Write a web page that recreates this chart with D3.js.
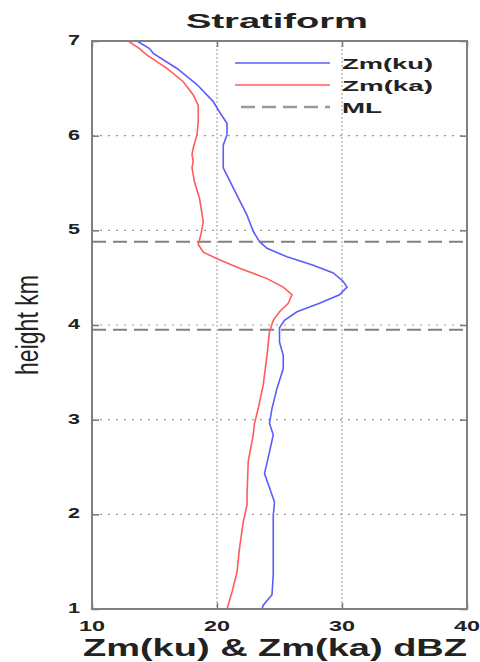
<!DOCTYPE html>
<html>
<head>
<meta charset="utf-8">
<script src="https://cdn.jsdelivr.net/npm/d3@7/dist/d3.min.js"></script>
<style>
  body { margin: 0; background: #fff; }
  text { font-family: "Liberation Sans", Arial, sans-serif; }
</style>
</head>
<body>
<div id="chart"></div>
<script>
// profiles (height km, dBZ)
const kuHeight = [7.0, 6.92, 6.87, 6.71, 6.54, 6.36, 6.25, 6.13, 6.01, 5.90, 5.66, 5.58, 5.37, 5.16, 4.99, 4.88, 4.81, 4.72, 4.63, 4.55, 4.46, 4.40, 4.32, 4.23, 4.14, 4.05, 3.97, 3.82, 3.68, 3.54, 3.33, 3.12, 2.96, 2.84, 2.66, 2.43, 2.28, 2.13, 1.99, 1.64, 1.36, 1.15, 1.04, 1.0]
const kuValue = [13.6, 14.6, 14.9, 16.8, 18.4, 19.7, 20.2, 20.8, 20.8, 20.5, 20.5, 20.8, 21.6, 22.4, 22.9, 23.4, 24.0, 25.6, 27.7, 29.3, 30.1, 30.4, 29.8, 28.2, 26.4, 25.4, 25.0, 25.0, 25.3, 25.3, 24.8, 24.4, 24.2, 24.5, 24.2, 23.8, 24.2, 24.6, 24.5, 24.5, 24.5, 24.4, 23.7, 23.6]

const kaHeight = [7.0, 6.92, 6.85, 6.71, 6.57, 6.43, 6.32, 6.15, 6.01, 5.87, 5.80, 5.73, 5.66, 5.51, 5.34, 5.09, 4.95, 4.85, 4.77, 4.70, 4.60, 4.49, 4.40, 4.32, 4.23, 4.14, 4.05, 3.93, 3.68, 3.37, 3.12, 2.96, 2.84, 2.56, 2.20, 2.10, 1.92, 1.64, 1.39, 1.18, 1.0]
const kaValue = [12.9, 13.8, 14.4, 16.0, 17.3, 18.1, 18.5, 18.5, 18.4, 18.1, 18.0, 18.1, 18.0, 18.2, 18.6, 18.9, 18.7, 18.5, 18.9, 20.0, 21.8, 24.0, 25.3, 26.0, 25.7, 25.0, 24.5, 24.2, 24.0, 23.7, 23.3, 23.0, 22.9, 22.5, 22.4, 22.4, 22.1, 21.8, 21.6, 21.2, 20.8]

const mlHeights = [4.88, 3.95]
const xTicks = [10, 20, 30, 40]
const yTicks = [1, 2, 3, 4, 5, 6, 7]
const legendNames = ['Zm(ku)', 'Zm(ka)', 'ML']

const width = 480, height = 662
const m = { top: 41, right: 13, bottom: 53, left: 92 }
const iw = width - m.left - m.right
const ih = height - m.top - m.bottom

const svg = d3.select('#chart').append('svg').attr('width', width).attr('height', height)
const g = svg.append('g').attr('transform', `translate(${m.left},${m.top})`)

const x = d3.scaleLinear().domain([10, 40]).range([0, iw])
const y = d3.scaleLinear().domain([1, 7]).range([ih, 0])

// grid
g.append('g').selectAll('line').data([20, 30]).join('line')
  .attr('x1', d => x(d)).attr('x2', d => x(d)).attr('y1', 0).attr('y2', ih)
  .attr('stroke', '#aaa').attr('stroke-width', 1.2).attr('stroke-dasharray', '2,2')
g.append('g').selectAll('line').data([2, 3, 4, 5, 6]).join('line')
  .attr('x1', 0).attr('x2', iw).attr('y1', d => y(d)).attr('y2', d => y(d))
  .attr('stroke', '#999').attr('stroke-width', 1.2).attr('stroke-dasharray', '2,6')

// melting layer
g.append('g').selectAll('line').data(mlHeights).join('line')
  .attr('x1', 0).attr('x2', iw).attr('y1', d => y(d)).attr('y2', d => y(d))
  .attr('stroke', '#808080').attr('stroke-width', 2).attr('stroke-dasharray', '14,7')

// profiles
const line = d3.line().x(d => x(d[1])).y(d => y(d[0]))
g.append('path').datum(d3.zip(kuHeight, kuValue))
  .attr('d', line).attr('fill', 'none').attr('stroke', '#5c5cff').attr('stroke-width', 1.6)
g.append('path').datum(d3.zip(kaHeight, kaValue))
  .attr('d', line).attr('fill', 'none').attr('stroke', '#ff5c5c').attr('stroke-width', 1.6)

// ticks (inward)
const tk = (sel) => sel.selectAll('.domain').remove()
g.append('g').call(d3.axisLeft(y).tickValues(yTicks).tickSize(-7).tickFormat('')).call(tk)
g.append('g').attr('transform', `translate(${iw},0)`).call(d3.axisRight(y).tickValues(yTicks).tickSize(-7).tickFormat('')).call(tk)
g.append('g').attr('transform', `translate(0,${ih})`).call(d3.axisBottom(x).tickValues(xTicks).tickSize(-6).tickFormat('')).call(tk)
g.append('g').call(d3.axisTop(x).tickValues(xTicks).tickSize(-6).tickFormat('')).call(tk)
g.selectAll('.tick line').attr('stroke', '#777').attr('stroke-width', 1.5)

// frame
g.append('rect').attr('width', iw).attr('height', ih)
  .attr('fill', 'none').attr('stroke', '#808080').attr('stroke-width', 2)

// tick labels
g.append('g').selectAll('text').data(yTicks).join('text')
  .attr('x', -12).attr('y', d => y(d) + 4)
  .attr('text-anchor', 'end').attr('font-size', 14).attr('font-weight', 'bold')
  .attr('textLength', 12).attr('lengthAdjust', 'spacingAndGlyphs')
  .attr('fill', '#222').text(d => d)
g.append('g').selectAll('text').data(xTicks).join('text')
  .attr('x', d => x(d)).attr('y', ih + 22)
  .attr('text-anchor', 'middle').attr('font-size', 14).attr('font-weight', 'bold')
  .attr('textLength', 26).attr('lengthAdjust', 'spacingAndGlyphs')
  .attr('fill', '#222').text(d => d)

// title and axis labels
svg.append('text').attr('x', 277).attr('y', 28).attr('text-anchor', 'middle')
  .attr('font-size', 21).attr('font-weight', 'bold')
  .attr('textLength', 182).attr('lengthAdjust', 'spacingAndGlyphs')
  .attr('fill', '#222').text('Stratiform')
svg.append('text').attr('x', 83).attr('y', 656)
  .attr('font-size', 23).attr('font-weight', 'bold')
  .attr('textLength', 384).attr('lengthAdjust', 'spacingAndGlyphs')
  .attr('fill', '#222').text('Zm(ku) & Zm(ka) dBZ')
svg.append('text').attr('transform', `translate(38,${m.top + ih / 2}) rotate(-90)`)
  .attr('text-anchor', 'middle').attr('font-size', 31)
  .attr('textLength', 100).attr('lengthAdjust', 'spacingAndGlyphs')
  .attr('fill', '#222').text('height km')

// legend
const lg = svg.append('g').attr('transform', 'translate(235,63)')
const legendStyle = [
  { stroke: '#5c5cff', dash: null, w: 1.6 },
  { stroke: '#ff5c5c', dash: null, w: 1.6 },
  { stroke: '#999', dash: '14,7', w: 2.5 }
]
const item = lg.selectAll('g').data(legendNames).join('g')
  .attr('transform', (d, i) => `translate(0,${i * 22})`)
item.append('line').attr('x1', (d, i) => i === 2 ? 6 : 0).attr('x2', 95)
  .attr('stroke', (d, i) => legendStyle[i].stroke)
  .attr('stroke-width', (d, i) => legendStyle[i].w)
  .attr('stroke-dasharray', (d, i) => legendStyle[i].dash)
item.append('text').attr('x', 107).attr('y', 5.5)
  .attr('font-size', 15).attr('font-weight', 'bold')
  .attr('textLength', (d, i) => i === 2 ? 40 : 91).attr('lengthAdjust', 'spacingAndGlyphs')
  .attr('fill', '#222').text(d => d)
</script>
</body>
</html>
